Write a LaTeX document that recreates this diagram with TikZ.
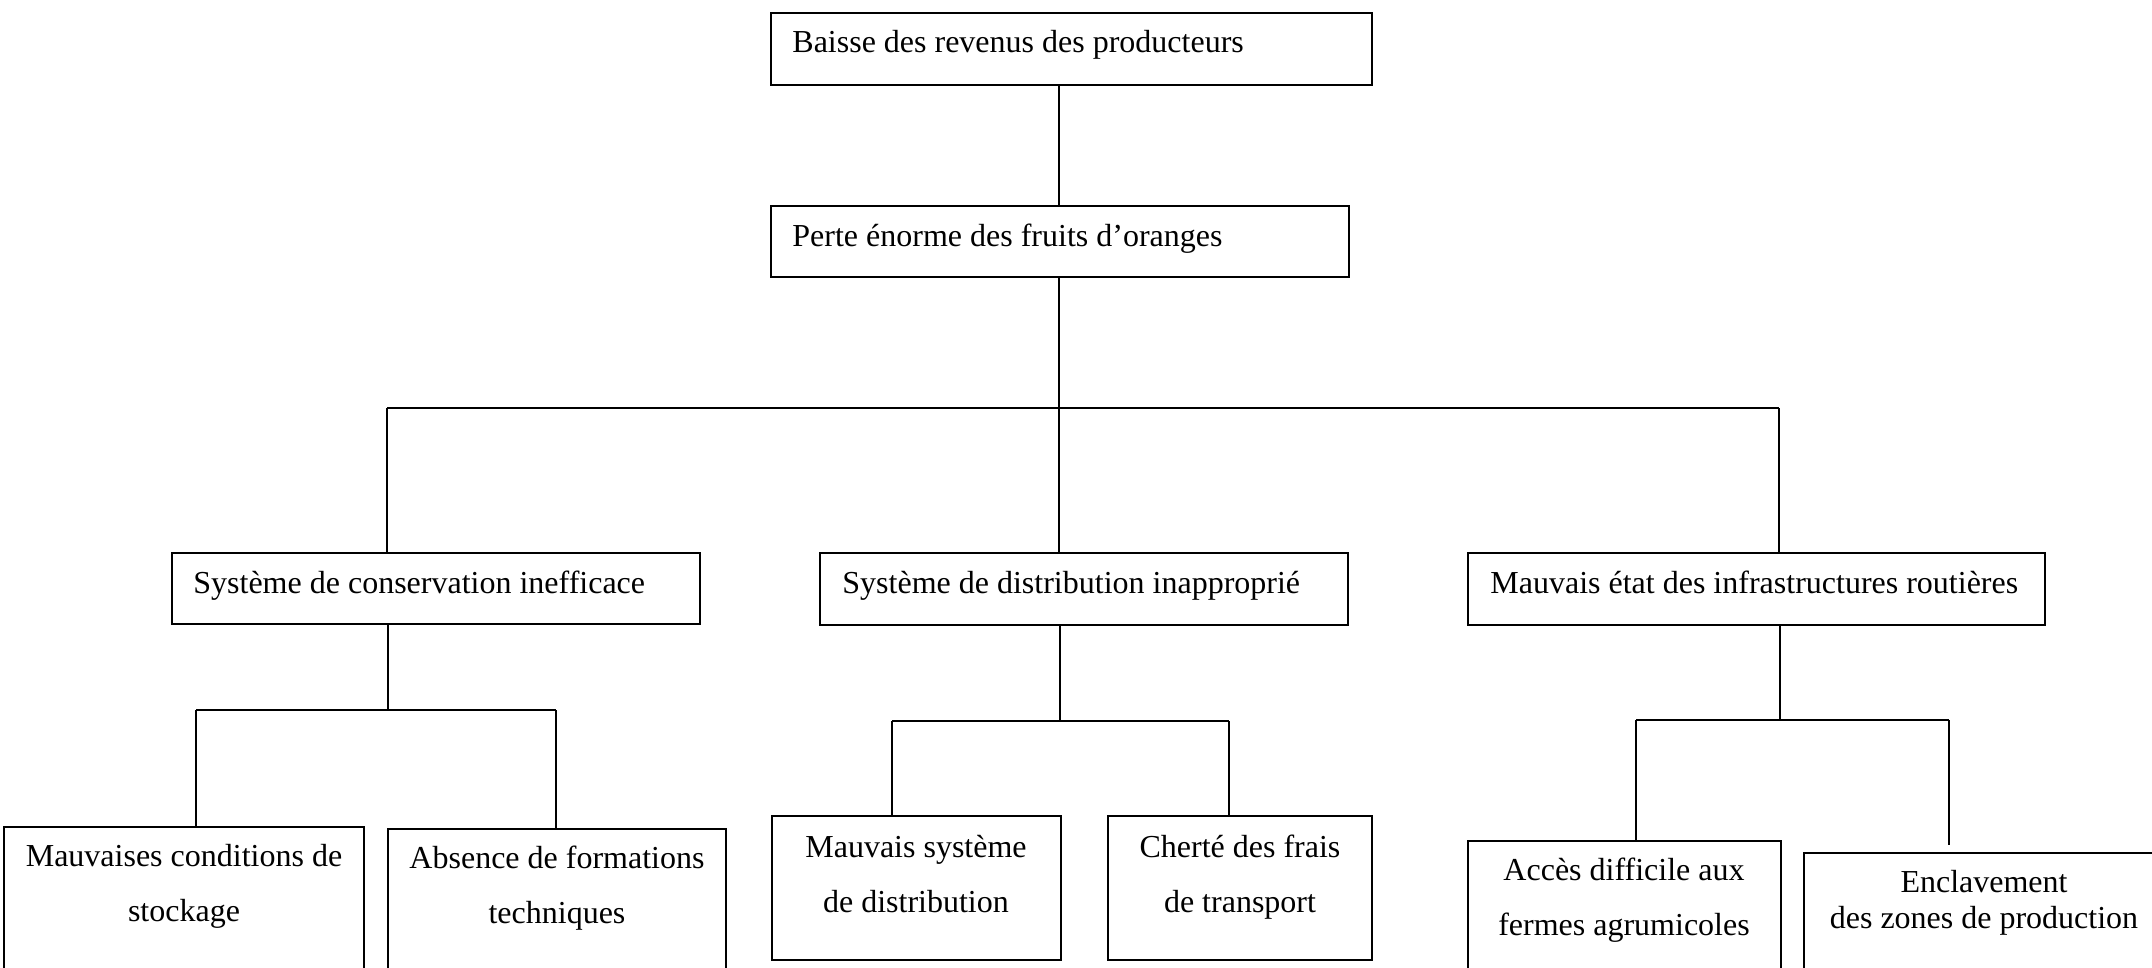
\documentclass[tikz,border=0pt]{standalone}
\usepackage{fontspec}
\setmainfont{Liberation Serif}
\usetikzlibrary{fit}
\begin{document}
\begin{tikzpicture}[x=0.5pt,y=-0.5pt,
  box/.style={draw,line width=1.2pt,rectangle,inner sep=0pt},
  lbl/.style={inner sep=0pt,font=\fontsize{16}{20}\selectfont},
  twoline/.style={inner sep=0pt,align=center,font=\fontsize{16}{27.5}\selectfont,anchor=base},
  link/.style={line width=1.2pt}]
\useasboundingbox (0,0) rectangle (2152,968);
\clip (0,0) rectangle (2152,968);

% top chain
\node[box,fit={(771,13) (1372,85)}] (b1) {};
\node[box,fit={(771,206) (1349,277)}] (b2) {};
\node[lbl,anchor=base west] (tb1) at (792,53) {Baisse des revenus des producteurs};
\node[lbl,anchor=base west] (tb2) at (792,247) {Perte énorme des fruits d’oranges};

% three main causes
\node[box,fit={(172,553) (700,624)}] (c1) {};
\node[box,fit={(820,553) (1348,625)}] (c2) {};
\node[box,fit={(1468,553) (2045,625)}] (c3) {};
\node[lbl,anchor=base west] (tc1) at (193,593) {Système de conservation inefficace};
\node[lbl,anchor=base west] (tc2) at (842,593) {Système de distribution inapproprié};
\node[lbl,anchor=base west] (tc3) at (1490,593) {Mauvais état des infrastructures routières};

% sub-causes (some run off the page edge); labels are placed by their last baseline
\node[box,fit={(4,827) (364,1100)}] (d1) {};
\node[box,fit={(388,829) (726,1100)}] (d2) {};
\node[box,fit={(772,816) (1061,960)}] (d3) {};
\node[box,fit={(1108,816) (1372,960)}] (d4) {};
\node[box,fit={(1468,841) (1781,1100)}] (d5) {};
\node[box,fit={(1804,853) (2300,1100)}] (d6) {};
\node[twoline] (td1) at (184,921) {Mauvaises conditions de\\stockage};
\node[twoline] (td2) at (557,923) {Absence de formations\\techniques};
\node[twoline] (td3) at (916,912) {Mauvais système\\de distribution};
\node[twoline] (td4) at (1240,912) {Cherté des frais\\de transport};
\node[twoline] (td5) at (1624,935) {Accès difficile aux\\fermes agrumicoles};
\node[twoline,font=\fontsize{16}{18}\selectfont] (td6) at (1984,928) {Enclavement\\des zones de production};

% main trunk
\coordinate (j0) at (1059,408);
\coordinate (hL) at (387,408);
\coordinate (hR) at (1779,408);
\draw[link] (j0 |- b1.south) -- (j0 |- b2.north);
\draw[link] (j0 |- b2.south) -- (j0 |- c2.north);
\draw[link] (hL) -- (hR);
\draw[link] (hL) -- (hL |- c1.north);
\draw[link] (hR) -- (hR |- c3.north);

% conservation branch
\coordinate (k1) at (388,710);
\coordinate (k1L) at (196,710);
\coordinate (k1R) at (556,710);
\draw[link] (k1 |- c1.south) -- (k1);
\draw[link] (k1L) -- (k1R);
\draw[link] (k1L) -- (k1L |- d1.north);
\draw[link] (k1R) -- (k1R |- d2.north);

% distribution branch
\coordinate (k2) at (1060,721);
\coordinate (k2L) at (892,721);
\coordinate (k2R) at (1229,721);
\draw[link] (k2 |- c2.south) -- (k2);
\draw[link] (k2L) -- (k2R);
\draw[link] (k2L) -- (k2L |- d3.north);
\draw[link] (k2R) -- (k2R |- d4.north);

% infrastructure branch
\coordinate (k3) at (1780,720);
\coordinate (k3L) at (1636,720);
\coordinate (k3R) at (1949,720);
\draw[link] (k3 |- c3.south) -- (k3);
\draw[link] (k3L) -- (k3R);
\draw[link] (k3L) -- (k3L |- d5.north);
\draw[link,shorten >=3.5pt] (k3R) -- (k3R |- d6.north);
\end{tikzpicture}
\end{document}
